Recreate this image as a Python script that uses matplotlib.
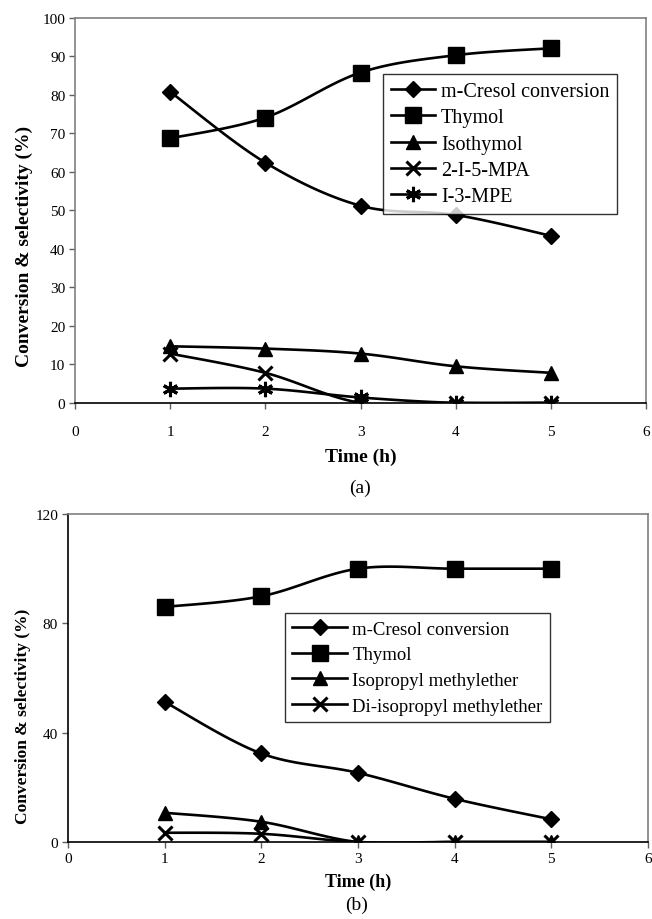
import numpy as np
import matplotlib
matplotlib.use("Agg")
import matplotlib.pyplot as plt
from matplotlib.lines import Line2D

plt.rcParams['font.family'] = ['Liberation Serif', 'DejaVu Serif']

# ---- data ----
time_h = [1, 2, 3, 4, 5]
x_ticks = [0, 1, 2, 3, 4, 5, 6]

a_labels = ["m-Cresol conversion", "Thymol", "Isothymol", "2-I-5-MPA", "I-3-MPE"]
a_cresol = [80.8, 62.4, 51.2, 48.8, 43.4]
a_thymol = [68.7, 74.1, 85.8, 90.3, 92.1]
a_isothymol = [14.7, 14.1, 12.8, 9.5, 7.8]
a_mpa = [12.8, 7.8, 0.0, 0.0, 0.0]
a_mpe = [3.7, 3.7, 1.4, 0.0, 0.0]
a_yticks = [0, 10, 20, 30, 40, 50, 60, 70, 80, 90, 100]

b_labels = ["m-Cresol conversion", "Thymol", "Isopropyl methylether",
            "Di-isopropyl methylether"]
b_cresol = [51.3, 32.4, 25.3, 15.8, 8.3]
b_thymol = [86.0, 89.9, 100.0, 100.0, 100.0]
b_ipme = [10.7, 7.4, 0.0, 0.0, 0.0]
b_dipme = [3.4, 3.0, 0.0, 0.0, 0.0]
b_yticks = [0, 40, 80, 120]

x_label = "Time (h)"
y_label = "Conversion & selectivity (%)"


def smooth(x, y, n=30, t=0.5):
    """Catmull-Rom style smoothed path through the data points (Excel-like)."""
    x = np.asarray(x, float)
    y = np.asarray(y, float)
    px = np.concatenate([[x[0]], x, [x[-1]]])
    py = np.concatenate([[y[0]], y, [y[-1]]])
    xs, ys = [], []
    for i in range(1, len(px) - 2):
        p0 = np.array([px[i - 1], py[i - 1]])
        p1 = np.array([px[i], py[i]])
        p2 = np.array([px[i + 1], py[i + 1]])
        p3 = np.array([px[i + 2], py[i + 2]])
        c1 = p1 + (p2 - p0) * t / 3.0
        c2 = p2 - (p3 - p1) * t / 3.0
        s = np.linspace(0, 1, n)[:, None]
        pts = ((1 - s) ** 3) * p1 + 3 * ((1 - s) ** 2) * s * c1 + \
            3 * (1 - s) * s ** 2 * c2 + s ** 3 * p2
        xs.append(pts[:, 0])
        ys.append(pts[:, 1])
    return np.concatenate(xs), np.concatenate(ys)


MARK = {
    'D': dict(marker='D', ms=8, mew=1),
    's': dict(marker='s', ms=11, mew=1),
    '^': dict(marker='^', ms=10, mew=1),
    'x': dict(marker='x', ms=10, mew=2.2),
    '*': dict(marker=(6, 2, 0), ms=11, mew=2.2),
}


def draw(ax, series, labels, markers, legend_kw):
    handles = []
    for y, lab, m in zip(series, labels, markers):
        sx, sy = smooth(time_h, y)
        ax.plot(sx, sy, color='black', lw=1.9, zorder=2)
        ax.plot(time_h, y, ls='none', color='black', mfc='black', mec='black',
                zorder=3, **MARK[m])
        handles.append(Line2D([0], [0], color='black', lw=1.9, mfc='black',
                              mec='black', **MARK[m]))
    leg = ax.legend(handles, labels, frameon=True, fancybox=False,
                    edgecolor='black', handletextpad=0.3,
                    borderpad=0.4, **legend_kw)
    leg.get_frame().set_linewidth(1.0)


def style(ax, yticks, ymax):
    ax.set_xlim(0, 6)
    ax.set_ylim(0, ymax)
    ax.set_xticks(x_ticks)
    ax.set_yticks(yticks)
    for side in ['left', 'top', 'right']:
        ax.spines[side].set_color('#808080')
        ax.spines[side].set_linewidth(1.2)
    ax.spines['bottom'].set_color('black')
    ax.spines['bottom'].set_linewidth(1.2)
    ax.tick_params(direction='out', length=4, width=1, labelsize=11,
                   color='#606060')


fig = plt.figure(figsize=(6.52, 9.2), dpi=100)

# ---- panel (a) ----
axa = fig.add_axes([0.115, 0.561, 0.876, 0.4185])
draw(axa, [a_cresol, a_thymol, a_isothymol, a_mpa, a_mpe], a_labels,
     ['D', 's', '^', 'x', '*'],
     dict(loc='upper left', bbox_to_anchor=(0.521, 0.88), fontsize=14.5,
          labelspacing=0.35, handlelength=2.2))
style(axa, a_yticks, 100)
axa.tick_params(axis='x', pad=12)
axa.tick_params(axis='y', pad=3)
axa.set_xlabel(x_label, fontsize=14, fontweight='bold', va='center')
axa.xaxis.set_label_coords(0.5, -0.138)
axa.set_ylabel(y_label, fontsize=14, fontweight='bold', va='center')
axa.yaxis.set_label_coords(-0.088, 0.41)
fig.text(0.5 + 0.115 / 2 - 0.005, 1 - 488 / 920, "(a)", fontsize=14,
         ha='center', va='center')

# ---- panel (b) ----
axb = fig.add_axes([0.104, 0.0837, 0.890, 0.3565])
draw(axb, [b_cresol, b_thymol, b_ipme, b_dipme], b_labels,
     ['D', 's', '^', 'x'],
     dict(loc='upper left', bbox_to_anchor=(0.358, 0.726), fontsize=13.5,
          labelspacing=0.45, handlelength=2.9))
style(axb, b_yticks, 120)
axb.spines['left'].set_color('black')
axb.tick_params(axis='x', pad=3)
axb.tick_params(axis='y', pad=3)
axb.set_xlabel(x_label, fontsize=13, fontweight='bold', va='center')
axb.xaxis.set_label_coords(0.5, -0.12)
axb.set_ylabel(y_label, fontsize=12.5, fontweight='bold', va='center')
axb.yaxis.set_label_coords(-0.078, 0.385)
fig.text(0.5 + 0.104 / 2 - 0.005, 1 - 905 / 920, "(b)", fontsize=14,
         ha='center', va='center')

fig.savefig("out.png", dpi=100)
